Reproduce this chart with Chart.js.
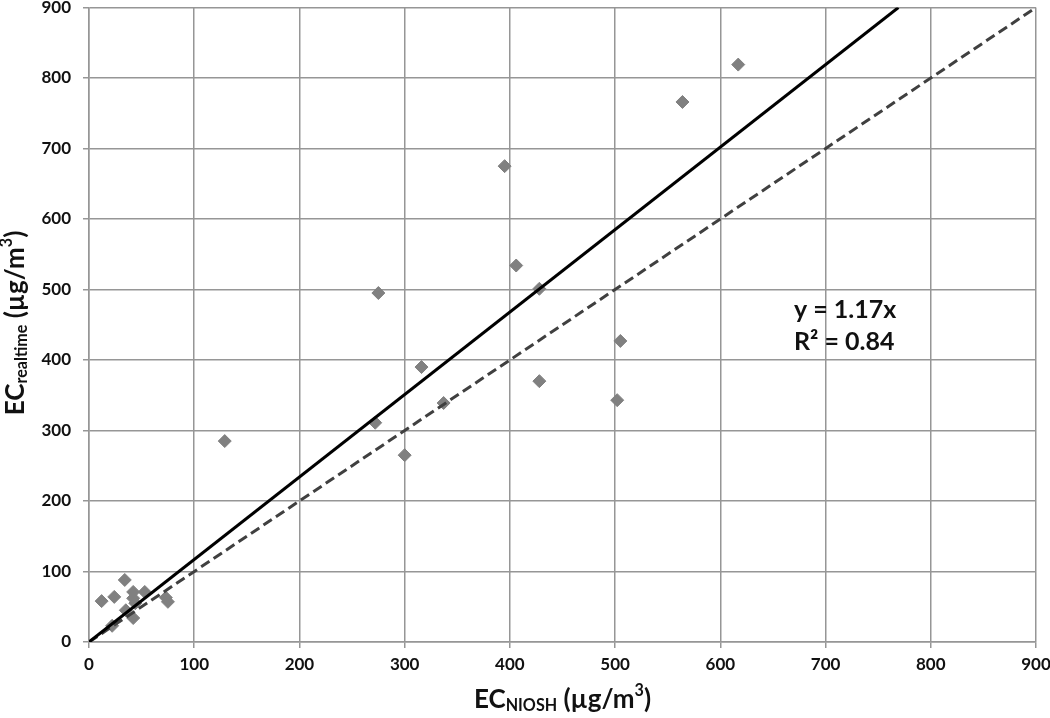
<!DOCTYPE html>
<html>
<head>
<meta charset="utf-8">
<script src="https://cdn.jsdelivr.net/npm/chart.js@4"></script>
<style>
  html, body { margin: 0; padding: 0; background: #fff; }
  #wrap { width: 1050px; height: 718px; position: relative; }
</style>
</head>
<body>
<div id="wrap"><canvas id="ec-chart"></canvas></div>
<script>
// EC measured by NIOSH method vs realtime instrument (µg/m3)
const ecNiosh = [22, 12, 24, 34, 42, 42, 44, 35, 42, 53, 73, 75,
                 129, 272, 275, 300, 316, 337, 395, 406, 428, 428, 502, 505, 564, 617];
const ecRealtime = [23, 58, 64, 88, 71, 62, 55, 45, 34, 71, 63, 57,
                    285, 311, 495, 265, 390, 339, 675, 534, 501, 370, 343, 427, 766, 819];
const slope = 1.17;
const rSquared = 0.84;
const oneToOne = [0, 900];
const tickValues = [0, 100, 200, 300, 400, 500, 600, 700, 800, 900];

const fontFam = "Lato, 'Open Sans', sans-serif";
const gridGrey = 'rgba(150, 150, 150, 1)';

const points = ecNiosh.map((x, i) => ({ x: x, y: ecRealtime[i] }));
const fitLine = [{ x: 0, y: 0 }, { x: 900 / slope, y: 900 }];
const refLine = oneToOne.map(v => ({ x: v, y: v }));

// draw a label made of normal / sub / sup parts, centred on 0
function drawRich(ctx, parts, size) {
  let w = 0;
  parts.forEach(p => {
    const s = p.t === 'n' ? size : size * 0.62;
    ctx.font = 'bold ' + s + 'px ' + fontFam;
    w += ctx.measureText(p.s).width;
  });
  let x = -w / 2;
  parts.forEach(p => {
    const s = p.t === 'n' ? size : size * 0.62;
    ctx.font = 'bold ' + s + 'px ' + fontFam;
    let dy = 0;
    if (p.t === 'sub') dy = size * 0.24;
    if (p.t === 'sup') dy = -size * 0.36;
    ctx.fillText(p.s, x, dy);
    x += ctx.measureText(p.s).width;
  });
}

const labelsPlugin = {
  id: 'labels',
  afterDraw(chart) {
    const ctx = chart.ctx;
    const a = chart.chartArea;
    ctx.save();
    ctx.fillStyle = '#111';
    ctx.textAlign = 'left';
    ctx.textBaseline = 'middle';

    // x title
    ctx.save();
    ctx.translate((a.left + a.right) / 2, 700);
    drawRich(ctx, [{ s: 'EC', t: 'n' }, { s: 'NIOSH', t: 'sub' }, { s: ' (µg/m', t: 'n' }, { s: '3', t: 'sup' }, { s: ')', t: 'n' }], 26);
    ctx.restore();

    // y title
    ctx.save();
    ctx.translate(16, 323);
    ctx.rotate(-Math.PI / 2);
    drawRich(ctx, [{ s: 'EC', t: 'n' }, { s: 'realtime', t: 'sub' }, { s: ' (µg/m', t: 'n' }, { s: '3', t: 'sup' }, { s: ')', t: 'n' }], 26);
    ctx.restore();

    // fit annotation
    ctx.font = 'bold 25px ' + fontFam;
    ctx.fillText('y = ' + slope + 'x', 794, 310);
    ctx.fillText('R² = ' + rSquared, 794, 342);
    ctx.restore();
  }
};

new Chart(document.getElementById('ec-chart'), {
  type: 'scatter',
  data: {
    datasets: [
      {
        label: 'data',
        data: points,
        pointStyle: 'rectRot',
        pointRadius: 6.5,
        pointBackgroundColor: 'rgba(128, 128, 128, 1)',
        pointBorderColor: 'rgba(128, 128, 128, 1)',
        order: 3,
      },
      {
        type: 'line',
        label: 'fit',
        data: fitLine,
        borderColor: '#000',
        borderWidth: 3,
        pointRadius: 0,
        fill: false,
        order: 1,
      },
      {
        type: 'line',
        label: '1:1',
        data: refLine,
        borderColor: 'rgba(64, 64, 64, 1)',
        borderWidth: 3,
        borderDash: [10, 5],
        pointRadius: 0,
        fill: false,
        order: 2,
      },
    ],
  },
  options: {
    responsive: true,
    maintainAspectRatio: false,
    animation: false,
    layout: { padding: { left: 0, right: 14, top: 7, bottom: 0 } },
    plugins: {
      legend: { display: false },
      tooltip: { enabled: false },
    },
    scales: {
      x: {
        type: 'linear',
        min: 0,
        max: 900,
        afterFit(scale) {
          scale.height = 76;
          scale.paddingLeft = 0;
          scale.paddingRight = 0;
        },
        afterBuildTicks(scale) { scale.ticks = tickValues.map(v => ({ value: v })); },
        border: { color: gridGrey, width: 1.5 },
        grid: { color: gridGrey, lineWidth: 1.5, tickLength: 6 },
        ticks: {
          color: '#111',
          padding: 6,
          maxRotation: 0,
          font: { family: fontFam, weight: 'bold', size: 17 },
        },
      },
      y: {
        type: 'linear',
        min: 0,
        max: 900,
        afterFit(scale) {
          scale.width = 89;
          scale.paddingTop = 0;
          scale.paddingBottom = 0;
        },
        afterBuildTicks(scale) { scale.ticks = tickValues.map(v => ({ value: v })); },
        border: { color: gridGrey, width: 1.5 },
        grid: { color: gridGrey, lineWidth: 1.5, tickLength: 6 },
        ticks: {
          color: '#111',
          padding: 12,
          font: { family: fontFam, weight: 'bold', size: 17 },
        },
      },
    },
  },
  plugins: [labelsPlugin],
});
</script>
</body>
</html>
